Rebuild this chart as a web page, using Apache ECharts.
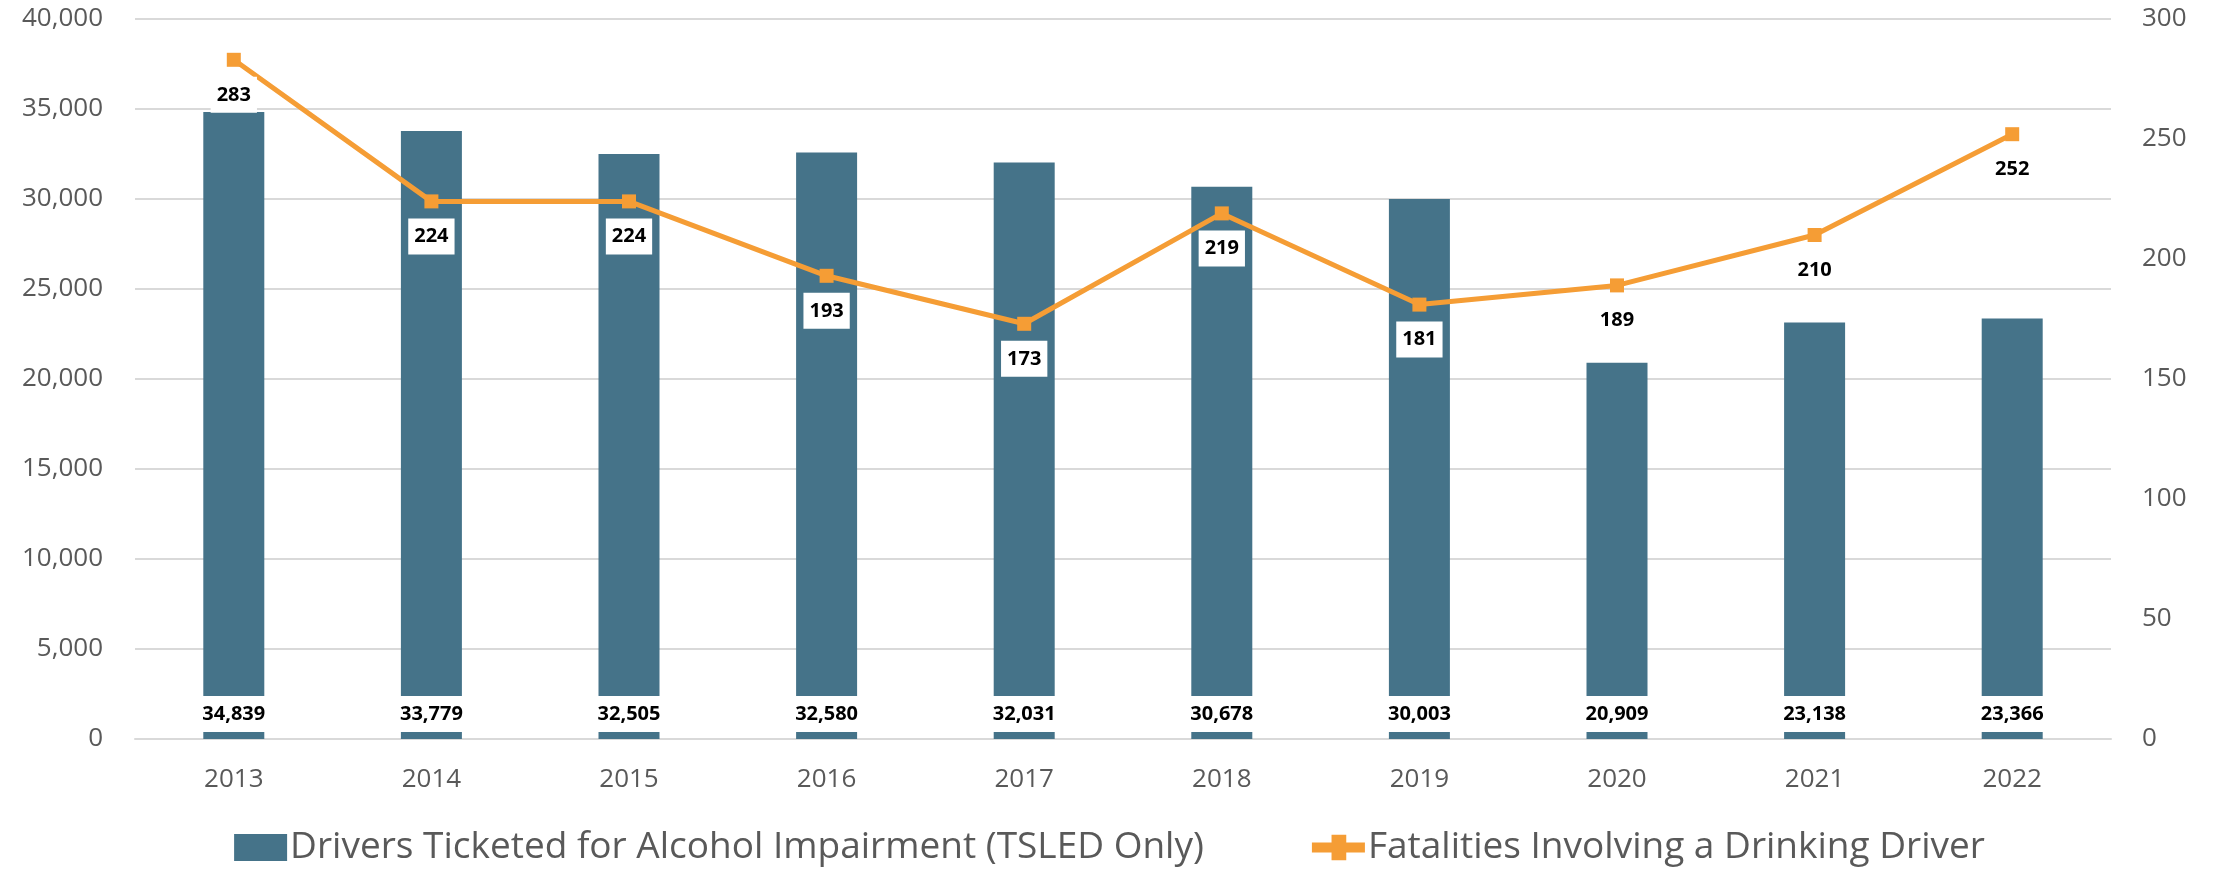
<!DOCTYPE html>
<html>
<head>
<meta charset="utf-8">
<script src="https://cdn.jsdelivr.net/npm/echarts@6/dist/echarts.min.js"></script>
<style>
  html, body { margin: 0; padding: 0; background: #fff; }
  #chart { width: 2219px; height: 871px; }
</style>
</head>
<body>
<div id="chart"></div>
<script>
// chart data
const years = ['2013', '2014', '2015', '2016', '2017', '2018', '2019', '2020', '2021', '2022'];
const driversTicketed = [34839, 33779, 32505, 32580, 32031, 30678, 30003, 20909, 23138, 23366];
const fatalities = [283, 224, 224, 193, 173, 219, 181, 189, 210, 252];
const leftTicks = { min: 0, max: 40000, interval: 5000 };
const rightTicks = { min: 0, max: 300, interval: 50 };

const FONT = '"Open Sans", "Noto Sans", sans-serif';
const BAR_NAME = 'Drivers Ticketed for Alcohol Impairment (TSLED Only)';
const LINE_NAME = 'Fatalities Involving a Drinking Driver';
const chart = echarts.init(document.getElementById('chart'));

const option = {
  backgroundColor: '#fff',
  animation: false,
  textStyle: { fontFamily: FONT },
  grid: { left: 135, right: 108, top: 19, bottom: 132 },
  legend: {
    bottom: 5,
    left: 'center',
    padding: 0,
    itemWidth: 53,
    itemHeight: 27,
    itemGap: 108,
    textStyle: { fontSize: 37, color: '#595959', fontFamily: FONT, padding: [0, 0, 0, -2] },
    data: [
      { name: BAR_NAME, icon: 'rect' },
      { name: LINE_NAME, icon: 'path://M0,8 L54,8 L54,18 L0,18 Z M20,0 L35,0 L35,26 L20,26 Z' }
    ]
  },
  xAxis: {
    type: 'category',
    data: years,
    axisTick: { show: false },
    axisLine: { lineStyle: { color: '#d9d9d9', width: 2 } },
    axisLabel: { color: '#595959', fontSize: 26, margin: 28 }
  },
  yAxis: [
    {
      type: 'value',
      min: leftTicks.min,
      max: leftTicks.max,
      interval: leftTicks.interval,
      axisLabel: {
        color: '#595959',
        fontSize: 26,
        margin: 32,
        formatter: v => v.toLocaleString('en-US')
      },
      splitLine: { lineStyle: { color: '#d9d9d9', width: 2 } }
    },
    {
      type: 'value',
      min: rightTicks.min,
      max: rightTicks.max,
      interval: rightTicks.interval,
      axisLabel: { color: '#595959', fontSize: 26, margin: 31 },
      splitLine: { show: false }
    }
  ],
  series: [
    {
      name: BAR_NAME,
      type: 'bar',
      data: driversTicketed,
      barWidth: 61,
      itemStyle: { color: '#457389' },
      label: {
        show: true,
        position: 'insideBottom',
        distance: 7,
        backgroundColor: '#fff',
        padding: [8, 4],
        color: '#000',
        fontWeight: 'bold',
        fontSize: 20,
        formatter: p => p.value.toLocaleString('en-US')
      }
    },
    {
      name: LINE_NAME,
      type: 'line',
      yAxisIndex: 1,
      data: fatalities,
      symbol: 'rect',
      symbolSize: 14,
      lineStyle: { color: '#F59D35', width: 5 },
      itemStyle: { color: '#F59D35' },
      label: {
        show: true,
        position: 'bottom',
        distance: 10,
        backgroundColor: '#fff',
        padding: [8, 6],
        color: '#000',
        fontWeight: 'bold',
        fontSize: 20
      }
    }
  ]
};

chart.setOption(option);
</script>
</body>
</html>
